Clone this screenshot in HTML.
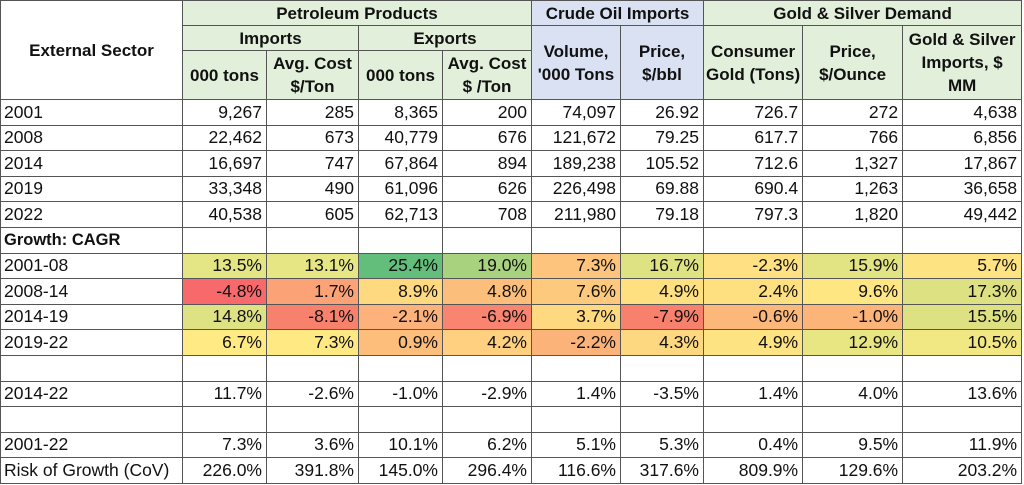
<!DOCTYPE html>
<html><head><meta charset="utf-8"><style>
html,body{margin:0;padding:0;background:#fff;width:1024px;height:485px;overflow:hidden}
table{position:absolute;left:0;top:0;border-collapse:collapse;table-layout:fixed;font-family:"Liberation Sans",sans-serif;font-size:17.5px;color:#111}
td{border:1px solid #555;padding:0 4px 0 3px;text-align:right;white-space:nowrap;overflow:hidden;line-height:1}
td.l{text-align:left}
.h td{font-weight:bold;text-align:center;font-size:17px;line-height:23px;background:#e2efda;padding:0 2px}
.h td.b{background:#d9e1f2}
.h td.w{background:#fff}
tr.d td{height:24.6px}
</style></head><body>
<table>
<colgroup><col style="width:182px"><col style="width:84px"><col style="width:92px"><col style="width:84px"><col style="width:89px"><col style="width:89px"><col style="width:83px"><col style="width:99px"><col style="width:100px"><col style="width:119px"></colgroup>
<tr class="h" style="height:25px"><td class="w" rowspan="3">External Sector</td><td colspan="4">Petroleum Products</td><td class="b" colspan="2">Crude Oil Imports</td><td colspan="3">Gold &amp; Silver Demand</td></tr>
<tr class="h" style="height:25px"><td colspan="2">Imports</td><td colspan="2">Exports</td><td class="b" rowspan="2">Volume,<br>'000 Tons</td><td class="b" rowspan="2">Price,<br>$/bbl</td><td rowspan="2">Consumer<br>Gold (Tons)</td><td rowspan="2">Price,<br>$/Ounce</td><td rowspan="2">Gold &amp; Silver<br>Imports, $<br>MM</td></tr>
<tr class="h" style="height:49px"><td>000 tons</td><td>Avg. Cost<br>$/Ton</td><td>000 tons</td><td>Avg. Cost<br>$ /Ton</td></tr>
<tr class="d"><td class="l">2001</td><td>9,267</td><td>285</td><td>8,365</td><td>200</td><td>74,097</td><td>26.92</td><td>726.7</td><td>272</td><td>4,638</td></tr>
<tr class="d"><td class="l">2008</td><td>22,462</td><td>673</td><td>40,779</td><td>676</td><td>121,672</td><td>79.25</td><td>617.7</td><td>766</td><td>6,856</td></tr>
<tr class="d"><td class="l">2014</td><td>16,697</td><td>747</td><td>67,864</td><td>894</td><td>189,238</td><td>105.52</td><td>712.6</td><td>1,327</td><td>17,867</td></tr>
<tr class="d"><td class="l">2019</td><td>33,348</td><td>490</td><td>61,096</td><td>626</td><td>226,498</td><td>69.88</td><td>690.4</td><td>1,263</td><td>36,658</td></tr>
<tr class="d"><td class="l">2022</td><td>40,538</td><td>605</td><td>62,713</td><td>708</td><td>211,980</td><td>79.18</td><td>797.3</td><td>1,820</td><td>49,442</td></tr>
<tr class="d"><td class="l" style="font-weight:bold;font-size:16.5px">Growth: CAGR</td><td></td><td></td><td></td><td></td><td></td><td></td><td></td><td></td><td></td></tr>
<tr class="d"><td class="l">2001-08</td><td style="background:#e4e584">13.5%</td><td style="background:#e6e685">13.1%</td><td style="background:#63be7b">25.4%</td><td style="background:#a9d27f">19.0%</td><td style="background:#fdc47d">7.3%</td><td style="background:#dfe283">16.7%</td><td style="background:#ffe083">-2.3%</td><td style="background:#e2e383">15.9%</td><td style="background:#fee382">5.7%</td></tr>
<tr class="d"><td class="l">2008-14</td><td style="background:#f8696b">-4.8%</td><td style="background:#fba276">1.7%</td><td style="background:#fed980">8.9%</td><td style="background:#fcbf7b">4.8%</td><td style="background:#fdc97d">7.6%</td><td style="background:#fee081">4.9%</td><td style="background:#fee081">2.4%</td><td style="background:#fee783">9.6%</td><td style="background:#dde182">17.3%</td></tr>
<tr class="d"><td class="l">2014-19</td><td style="background:#dfe283">14.8%</td><td style="background:#f8816e">-8.1%</td><td style="background:#fcb27a">-2.1%</td><td style="background:#f9846f">-6.9%</td><td style="background:#fed980">3.7%</td><td style="background:#f8816e">-7.9%</td><td style="background:#fcb77a">-0.6%</td><td style="background:#fcb479">-1.0%</td><td style="background:#dde182">15.5%</td></tr>
<tr class="d"><td class="l">2019-22</td><td style="background:#ffea84">6.7%</td><td style="background:#fee983">7.3%</td><td style="background:#fdbd7b">0.9%</td><td style="background:#fed07f">4.2%</td><td style="background:#fcb37a">-2.2%</td><td style="background:#fed880">4.3%</td><td style="background:#fee382">4.9%</td><td style="background:#e8e583">12.9%</td><td style="background:#f1e783">10.5%</td></tr>
<tr class="d"><td></td><td></td><td></td><td></td><td></td><td></td><td></td><td></td><td></td><td></td></tr>
<tr class="d"><td class="l">2014-22</td><td>11.7%</td><td>-2.6%</td><td>-1.0%</td><td>-2.9%</td><td>1.4%</td><td>-3.5%</td><td>1.4%</td><td>4.0%</td><td>13.6%</td></tr>
<tr class="d"><td></td><td></td><td></td><td></td><td></td><td></td><td></td><td></td><td></td><td></td></tr>
<tr class="d"><td class="l">2001-22</td><td>7.3%</td><td>3.6%</td><td>10.1%</td><td>6.2%</td><td>5.1%</td><td>5.3%</td><td>0.4%</td><td>9.5%</td><td>11.9%</td></tr>
<tr class="d"><td class="l">Risk of Growth (CoV)</td><td>226.0%</td><td>391.8%</td><td>145.0%</td><td>296.4%</td><td>116.6%</td><td>317.6%</td><td>809.9%</td><td>129.6%</td><td>203.2%</td></tr>
</table>
</body></html>
